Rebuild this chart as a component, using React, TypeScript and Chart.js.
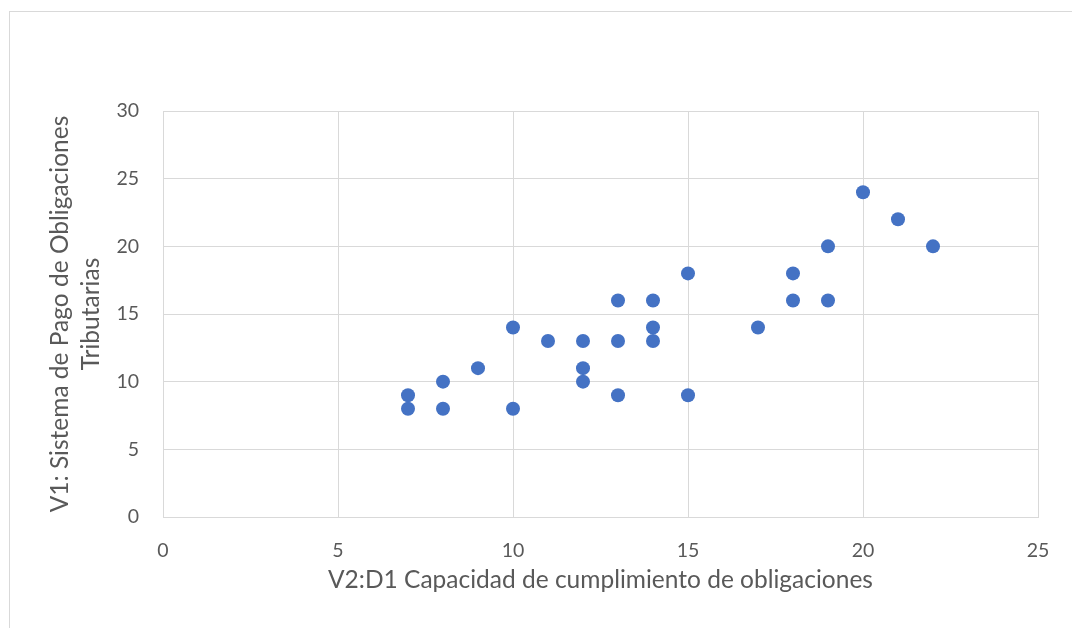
import React, { useEffect, useRef } from "react";
import { Chart, registerables } from "chart.js";

Chart.register(...registerables);

const xValues = [7, 7, 8, 8, 9, 10, 10, 11, 12, 12, 12, 13, 13, 13, 14, 14, 14, 15, 15, 17, 18, 18, 19, 19, 20, 21, 22];
const yValues = [9, 8, 10, 8, 11, 14, 8, 13, 13, 11, 10, 16, 13, 9, 16, 14, 13, 18, 9, 14, 18, 16, 20, 16, 24, 22, 20];
const xTitle = "V2:D1 Capacidad de cumplimiento de obligaciones";
const yTitle = ["V1: Sistema de Pago de Obligaciones", "Tributarias"];

const FONT = "Lato, 'Open Sans', sans-serif";
const TEXT = "#595959";
const GRID = "#d9d9d9";

export default function App() {
  const ref = useRef<HTMLCanvasElement>(null);
  useEffect(() => {
    if (!ref.current) return;
    const data = xValues.map((x, i) => ({ x, y: yValues[i] }));
    const chart = new Chart(ref.current, {
      type: "scatter",
      data: {
        datasets: [
          {
            data,
            backgroundColor: "#4472C4",
            borderColor: "#4472C4",
            borderWidth: 0,
            pointRadius: 7,
            pointHoverRadius: 7,
          },
        ],
      },
      options: {
        animation: false,
        responsive: false,
        devicePixelRatio: 1,
        layout: { padding: { top: 111, right: 34, bottom: 0, left: 0 } },
        plugins: { legend: { display: false }, tooltip: { enabled: false } },
        scales: {
          x: {
            type: "linear",
            min: 0,
            max: 25,
            ticks: { stepSize: 5, color: TEXT, font: { family: FONT, size: 19.5 }, padding: 22 },
            grid: { color: GRID, lineWidth: 1, drawTicks: false },
            border: { color: GRID, width: 1 },
            title: {
              display: true,
              text: xTitle,
              color: TEXT,
              font: { family: FONT, size: 24.5, lineHeight: 1.2 },
              padding: { top: 0, bottom: 33 },
            },
            afterFit: (s: any) => {
              s.height = 111;
            },
          },
          y: {
            type: "linear",
            min: 0,
            max: 30,
            ticks: { stepSize: 5, color: TEXT, font: { family: FONT, size: 19.5 }, padding: 24 },
            grid: { color: GRID, lineWidth: 1, drawTicks: false },
            border: { color: GRID, width: 1 },
            title: {
              display: true,
              text: yTitle,
              color: TEXT,
              font: { family: FONT, size: 24.5, lineHeight: 1.265 },
              padding: { top: 45, bottom: 0 },
            },
            afterFit: (s: any) => {
              s.width = 163;
            },
          },
        },
      },
    });
    return () => chart.destroy();
  }, []);
  return (
    <div style={{ position: "fixed", left: 0, top: 0, width: 1072, height: 628, background: "#fff", overflow: "hidden" }}>
      <div
        style={{
          position: "absolute",
          left: 9,
          top: 11,
          width: 1200,
          height: 800,
          border: "1px solid #d9d9d9",
          boxSizing: "border-box",
        }}
      />
      <canvas ref={ref} width={1072} height={628} style={{ position: "absolute", left: 0, top: 0 }} />
    </div>
  );
}
